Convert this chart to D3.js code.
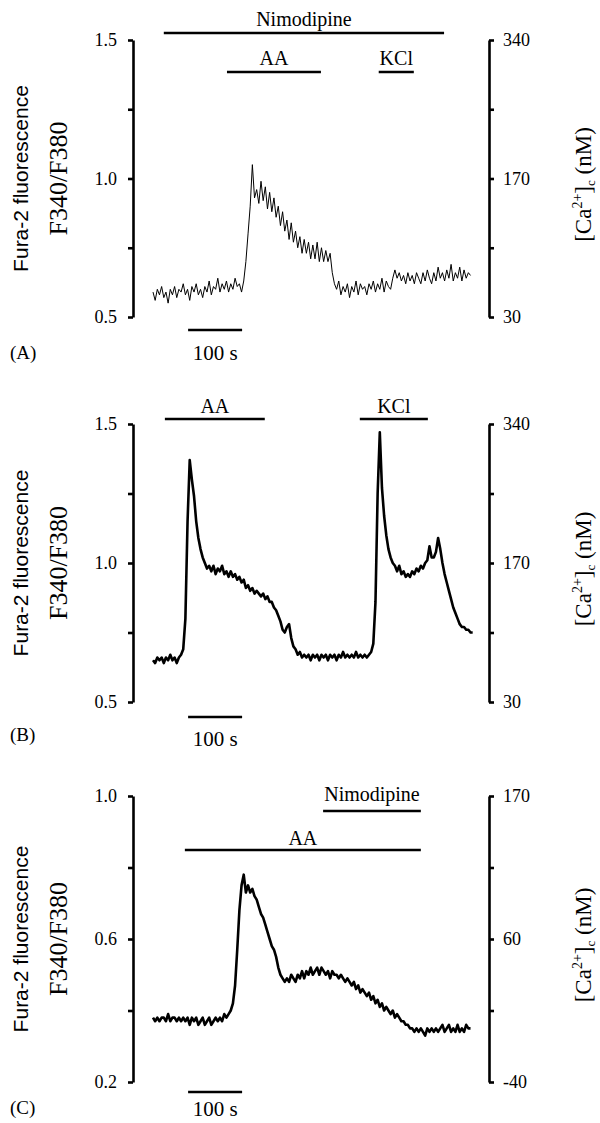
<!DOCTYPE html>
<html><head><meta charset="utf-8">
<script src="https://cdn.jsdelivr.net/npm/d3@7"></script>
<style>body{margin:0;background:#fff}</style>
</head><body><svg id="c" width="600" height="1123"></svg>
<script>
// ---------- DATA ----------
const sampleInterval = 4; // seconds between samples
const traceA = [
0.59,0.56,0.60,0.58,0.61,0.57,0.59,0.55,0.60,0.58,
0.61,0.57,0.60,0.59,0.62,0.58,0.60,0.56,0.61,0.59,
0.62,0.58,0.60,0.57,0.61,0.59,0.63,0.58,0.61,0.60,
0.64,0.59,0.62,0.60,0.63,0.59,0.62,0.60,0.64,0.61,
0.62,0.59,0.63,0.70,0.80,0.90,1.05,0.93,0.96,0.91,
0.99,0.92,0.97,0.89,0.95,0.88,0.93,0.86,0.90,0.83,
0.88,0.81,0.85,0.78,0.84,0.77,0.81,0.75,0.79,0.73,
0.78,0.73,0.77,0.71,0.76,0.71,0.77,0.70,0.75,0.70,
0.74,0.70,0.73,0.66,0.62,0.60,0.63,0.58,0.61,0.59,
0.62,0.57,0.61,0.59,0.63,0.58,0.62,0.60,0.61,0.58,
0.62,0.60,0.63,0.59,0.62,0.60,0.64,0.59,0.63,0.61,
0.60,0.64,0.67,0.64,0.66,0.63,0.65,0.62,0.66,0.63,
0.65,0.62,0.66,0.64,0.62,0.66,0.63,0.67,0.64,0.62,
0.66,0.63,0.68,0.64,0.66,0.63,0.67,0.64,0.69,0.63,
0.66,0.64,0.68,0.63,0.67,0.64,0.66,0.65];
const traceB = [
0.65,0.64,0.66,0.65,0.66,0.64,0.66,0.65,0.67,0.65,
0.66,0.64,0.66,0.67,0.69,0.80,1.15,1.37,1.30,1.24,
1.15,1.09,1.05,1.02,1.00,0.98,0.99,0.97,0.99,0.96,
0.98,0.97,0.99,0.96,0.97,0.95,0.97,0.95,0.96,0.94,
0.95,0.93,0.94,0.91,0.92,0.90,0.91,0.89,0.90,0.89,
0.88,0.89,0.87,0.88,0.86,0.86,0.84,0.83,0.81,0.79,
0.76,0.75,0.77,0.78,0.73,0.70,0.69,0.67,0.68,0.66,
0.67,0.66,0.67,0.65,0.67,0.66,0.67,0.65,0.67,0.66,
0.67,0.65,0.67,0.66,0.67,0.65,0.67,0.66,0.68,0.66,
0.67,0.66,0.67,0.66,0.68,0.66,0.67,0.66,0.67,0.66,
0.67,0.68,0.71,0.86,1.25,1.47,1.27,1.17,1.10,1.05,
1.02,1.00,0.99,0.97,0.99,0.96,0.97,0.95,0.96,0.95,
0.97,0.96,0.98,0.97,0.99,0.98,1.00,1.01,1.06,1.02,
1.02,1.04,1.09,1.05,1.00,0.96,0.93,0.90,0.87,0.84,
0.82,0.80,0.78,0.77,0.77,0.76,0.76,0.75,0.75];
const traceC = [
0.38,0.37,0.38,0.37,0.38,0.38,0.37,0.39,0.37,0.38,
0.38,0.37,0.38,0.37,0.38,0.37,0.38,0.36,0.38,0.37,
0.38,0.36,0.37,0.38,0.36,0.37,0.38,0.36,0.37,0.38,
0.37,0.38,0.37,0.39,0.38,0.39,0.40,0.42,0.47,0.57,
0.68,0.75,0.78,0.73,0.75,0.73,0.74,0.72,0.71,0.69,
0.67,0.66,0.64,0.62,0.60,0.58,0.57,0.55,0.52,0.50,
0.49,0.48,0.49,0.48,0.50,0.49,0.48,0.50,0.49,0.51,
0.49,0.51,0.50,0.52,0.50,0.51,0.52,0.50,0.52,0.51,
0.50,0.51,0.49,0.51,0.50,0.50,0.49,0.50,0.49,0.48,
0.49,0.48,0.47,0.48,0.46,0.47,0.45,0.46,0.45,0.44,
0.45,0.43,0.44,0.42,0.43,0.41,0.42,0.40,0.41,0.40,
0.39,0.40,0.38,0.39,0.38,0.37,0.37,0.36,0.36,0.35,
0.35,0.34,0.35,0.34,0.35,0.34,0.33,0.35,0.34,0.35,
0.34,0.35,0.34,0.35,0.36,0.34,0.35,0.36,0.34,0.35,
0.34,0.36,0.34,0.35,0.34,0.36,0.35,0.35];

const ticksAB = [0.5, 0.75, 1.0, 1.25, 1.5];
const leftLabelsAB = ["0.5", "", "1.0", "", "1.5"];
const rightLabelsAB = ["30", "", "170", "", "340"];
const ticksC = [0.2, 0.4, 0.6, 0.8, 1.0];
const leftLabelsC = ["0.2", "", "0.6", "", "1.0"];
const rightLabelsC = ["-40", "", "60", "", "170"];

// treatment bars: [label, start s, end s, row]
const barsA = [["Nimodipine", 20, 539, 0], ["AA", 137, 311, 1], ["KCl", 418, 483, 1]];
const barsB = [["AA", 22, 207, 0], ["KCl", 383, 509, 0]];
const barsC = [["Nimodipine", 315, 496, 0], ["AA", 59, 496, 1]];
const scaleBar = [65, 165]; // 100 s
const panelLetters = ["(A)", "(B)", "(C)"];

// ---------- DRAW ----------
const svg = d3.select("#c");
const SERIF = "'Liberation Serif','Times New Roman',serif";
const SANS = "'Liberation Sans',Arial,sans-serif";
const x = d3.scaleLinear().domain([0, 600]).range([153, 477]);
const xLeft = 133, xRight = 489;

const panels = [
  {data: traceA, ticks: ticksAB, ll: leftLabelsAB, rl: rightLabelsAB, dom: [0.5, 1.5], rng: [317, 40],
   bars: barsA, rowY: [33, 72], gap: [7, 7], sbY: 330, sbText: 360, letterY: 359, sw: 1.0},
  {data: traceB, ticks: ticksAB, ll: leftLabelsAB, rl: rightLabelsAB, dom: [0.5, 1.5], rng: [702, 424],
   bars: barsB, rowY: [419], gap: [6], sbY: 717, sbText: 746, letterY: 741, sw: 2.6},
  {data: traceC, ticks: ticksC, ll: leftLabelsC, rl: rightLabelsC, dom: [0.2, 1.0], rng: [1082, 796],
   bars: barsC, rowY: [811, 850], gap: [10, 5], sbY: 1092, sbText: 1116, letterY: 1114, sw: 2.6}
];

panels.forEach((p, pi) => {
  const g = svg.append("g");
  const y = d3.scaleLinear().domain(p.dom).range(p.rng);

  const la = d3.axisLeft(y).tickValues(p.ticks).tickSize(5).tickSizeOuter(0).tickPadding(11)
    .tickFormat((d, i) => p.ll[i]);
  const ga = g.append("g").attr("transform", `translate(${xLeft},0)`).call(la);
  const ra = d3.axisRight(y).tickValues(p.ticks).tickSize(5).tickSizeOuter(0).tickPadding(9)
    .tickFormat((d, i) => p.rl[i]);
  const gb = g.append("g").attr("transform", `translate(${xRight},0)`).call(ra);
  [ga, gb].forEach(a => {
    a.select(".domain").attr("stroke", "#000").attr("stroke-width", 2.6);
    a.selectAll(".tick line").attr("stroke", "#000").attr("stroke-width", 2.6);
    a.selectAll("text").attr("font-family", SERIF).attr("font-size", 18).attr("fill", "#000");
  });

  const line = d3.line().x((d, i) => x(i * sampleInterval)).y(d => y(d));
  g.append("path").datum(p.data).attr("d", line).attr("fill", "none")
    .attr("stroke", "#000").attr("stroke-width", p.sw).attr("stroke-linejoin", "round");

  p.bars.forEach(b => {
    const by = p.rowY[b[3]];
    g.append("line").attr("x1", x(b[1])).attr("x2", x(b[2])).attr("y1", by).attr("y2", by)
      .attr("stroke", "#000").attr("stroke-width", 2.4);
    g.append("text").attr("x", (x(b[1]) + x(b[2])) / 2).attr("y", by - p.gap[b[3]])
      .attr("text-anchor", "middle").attr("font-family", SERIF).attr("font-size", 20).text(b[0]);
  });

  g.append("line").attr("x1", x(scaleBar[0])).attr("x2", x(scaleBar[1]))
    .attr("y1", p.sbY).attr("y2", p.sbY).attr("stroke", "#000").attr("stroke-width", 2.6);
  g.append("text").attr("x", (x(scaleBar[0]) + x(scaleBar[1])) / 2).attr("y", p.sbText)
    .attr("text-anchor", "middle").attr("font-family", SERIF).attr("font-size", 21).text("100 s");
  g.append("text").attr("x", 10).attr("y", p.letterY).attr("font-family", SERIF)
    .attr("font-size", 19).text(panelLetters[pi]);

  const cy = (p.rng[0] + p.rng[1]) / 2;
  g.append("text").attr("transform", `translate(28,${cy}) rotate(-90)`).attr("text-anchor", "middle")
    .attr("font-family", SANS).attr("font-size", 21).text("Fura-2 fluorescence");
  g.append("text").attr("transform", `translate(67,${cy}) rotate(-90)`).attr("text-anchor", "middle")
    .attr("font-family", SERIF).attr("font-size", 26).text("F340/F380");
  const rt = g.append("text").attr("transform", `translate(591,${cy + 6}) rotate(-90)`)
    .attr("text-anchor", "middle").attr("font-family", SERIF).attr("font-size", 23);
  rt.append("tspan").text("[Ca");
  rt.append("tspan").attr("font-size", 14).attr("dy", -9).text("2+");
  rt.append("tspan").attr("dy", 9).text("]");
  rt.append("tspan").attr("font-size", 13).attr("dy", 4).text("c");
  rt.append("tspan").attr("dy", -4).text(" (nM)");
});
</script></body></html>
